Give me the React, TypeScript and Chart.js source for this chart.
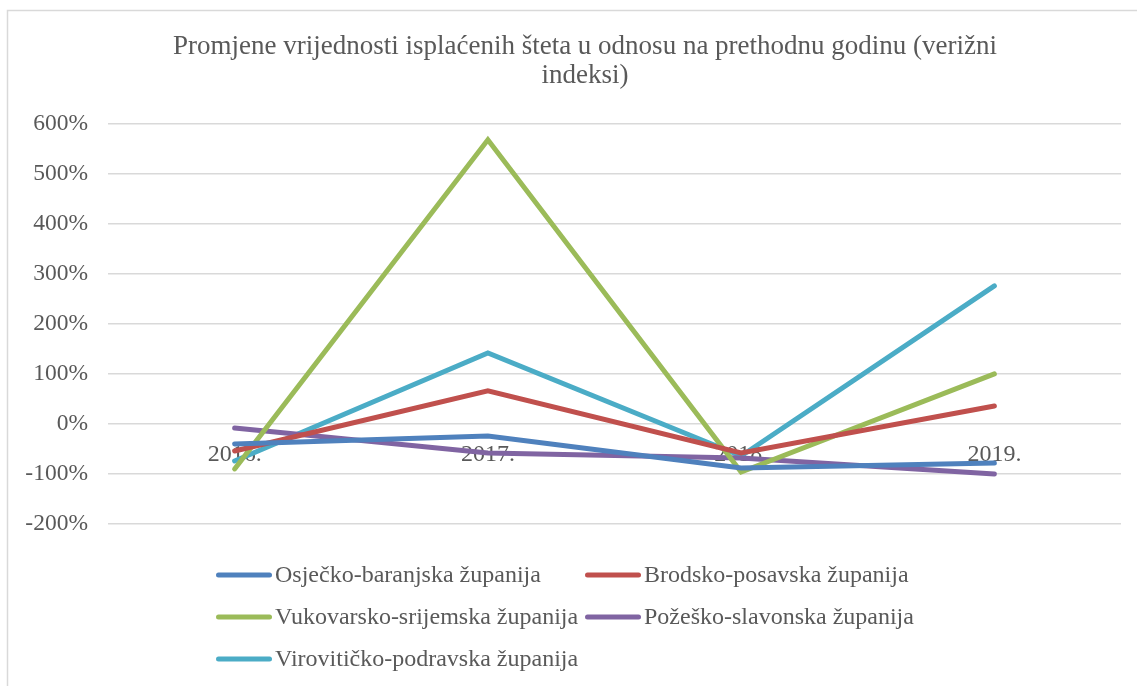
import React, { useEffect, useRef } from 'react';
import { Chart, registerables } from 'chart.js';

Chart.register(...registerables);

const categories = ['2016.', '2017.', '2018.', '2019.'];
const seriesNames = [
  'Osječko-baranjska županija',
  'Brodsko-posavska županija',
  'Vukovarsko-srijemska županija',
  'Požeško-slavonska županija',
  'Virovitičko-podravska županija',
];
const osjeckoBaranjska = [-40, -24, -88, -78];
const brodskoPosavska = [-54, 66, -58, 36];
const vukovarskoSrijemska = [-90, 568, -96, 100];
const pozeskoSlavonska = [-8, -58, -68, -100];
const viroviticoPodravska = [-74, 142, -64, 276];
const seriesColors = ['#4F81BD', '#C0504D', '#9BBB59', '#8064A2', '#4BACC6'];
const yMin = -200;
const yMax = 600;
const yStep = 100;
const titleLines = [
  'Promjene vrijednosti isplaćenih šteta u odnosu na prethodnu godinu (verižni',
  'indeksi)',
];

const FONT = "'Liberation Serif', 'Times New Roman', serif";
const TEXT = '#595959';
const GRID = '#D9D9D9';

const framePlugin = {
  id: 'frame',
  beforeDraw(chart: any) {
    const ctx = chart.ctx;
    ctx.save();
    ctx.fillStyle = '#FFFFFF';
    ctx.fillRect(0, 0, chart.width, chart.height);
    ctx.strokeStyle = GRID;
    ctx.lineWidth = 1.5;
    ctx.beginPath();
    ctx.moveTo(7.5, chart.height);
    ctx.lineTo(7.5, 10.5);
    ctx.lineTo(chart.width, 10.5);
    ctx.stroke();
    ctx.restore();
  },
};

const gridLegendPlugin = {
  id: 'gridLegend',
  afterDraw(chart: any) {
    const { ctx, chartArea } = chart;
    const colX = [chartArea.left + 108, chartArea.left + 477];
    const rowY = [chartArea.bottom + 51, chartArea.bottom + 93, chartArea.bottom + 135];
    ctx.save();
    ctx.font = `24px ${FONT}`;
    ctx.textBaseline = 'middle';
    ctx.textAlign = 'left';
    chart.data.datasets.forEach((ds: any, i: number) => {
      const x = colX[i % 2];
      const y = rowY[Math.floor(i / 2)];
      ctx.strokeStyle = ds.borderColor;
      ctx.lineWidth = 5;
      ctx.lineCap = 'round';
      ctx.beginPath();
      ctx.moveTo(x + 2.5, y);
      ctx.lineTo(x + 53.5, y);
      ctx.stroke();
      ctx.fillStyle = TEXT;
      ctx.fillText(ds.label, x + 59, y + 1);
    });
    ctx.restore();
  },
};

export default function App() {
  const canvasRef = useRef<HTMLCanvasElement | null>(null);

  useEffect(() => {
    document.body.style.margin = '0';
    const canvas = canvasRef.current;
    if (!canvas) return;
    const allSeries = [
      osjeckoBaranjska,
      brodskoPosavska,
      vukovarskoSrijemska,
      pozeskoSlavonska,
      viroviticoPodravska,
    ];
    const chart = new Chart(canvas, {
      type: 'line',
      data: {
        labels: categories,
        datasets: allSeries.map((values, i) => ({
          label: seriesNames[i],
          data: values,
          borderColor: seriesColors[i],
          backgroundColor: seriesColors[i],
          borderWidth: 5,
          borderCapStyle: 'round' as const,
          borderJoinStyle: 'miter' as const,
          pointRadius: 0,
          pointHoverRadius: 0,
          tension: 0,
          fill: false,
          yAxisID: 'y',
        })),
      },
      options: {
        responsive: false,
        animation: false,
        devicePixelRatio: 1,
        layout: { padding: { top: 0, left: 8, right: 8, bottom: 162 } },
        plugins: {
          legend: { display: false },
          tooltip: { enabled: false },
          title: {
            display: true,
            text: titleLines,
            color: TEXT,
            font: { family: FONT, size: 27, weight: 'normal', lineHeight: 1.08 },
            padding: { top: 32.5, bottom: 33 },
          },
        },
        scales: {
          x: {
            type: 'category',
            position: { y: 0 } as any,
            offset: true,
            grid: { display: false, drawTicks: false },
            border: { display: false },
            ticks: {
              color: TEXT,
              font: { family: FONT, size: 24 },
              padding: 16,
              maxRotation: 0,
              autoSkip: false,
            },
          },
          y: {
            type: 'linear',
            position: 'left',
            min: yMin,
            max: yMax,
            afterFit(scale: any) {
              scale.width = 100;
            },
            grid: { color: GRID, lineWidth: 1.5, drawTicks: false },
            border: { display: false },
            ticks: {
              stepSize: yStep,
              color: TEXT,
              font: { family: FONT, size: 23.5 },
              padding: 20,
              callback: (v: any) => `${v}%`,
            },
          },
          spacer: {
            type: 'linear',
            position: 'right',
            min: yMin,
            max: yMax,
            afterFit(scale: any) {
              scale.width = 41;
            },
            grid: { display: false, drawTicks: false },
            border: { display: false },
            ticks: { display: false },
          },
        },
      },
      plugins: [framePlugin, gridLegendPlugin],
    });
    return () => chart.destroy();
  }, []);

  return (
    <div style={{ width: 1137, height: 686, overflow: 'hidden', position: 'relative' }}>
      <canvas ref={canvasRef} width={1170} height={686} style={{ display: 'block' }} />
    </div>
  );
}
